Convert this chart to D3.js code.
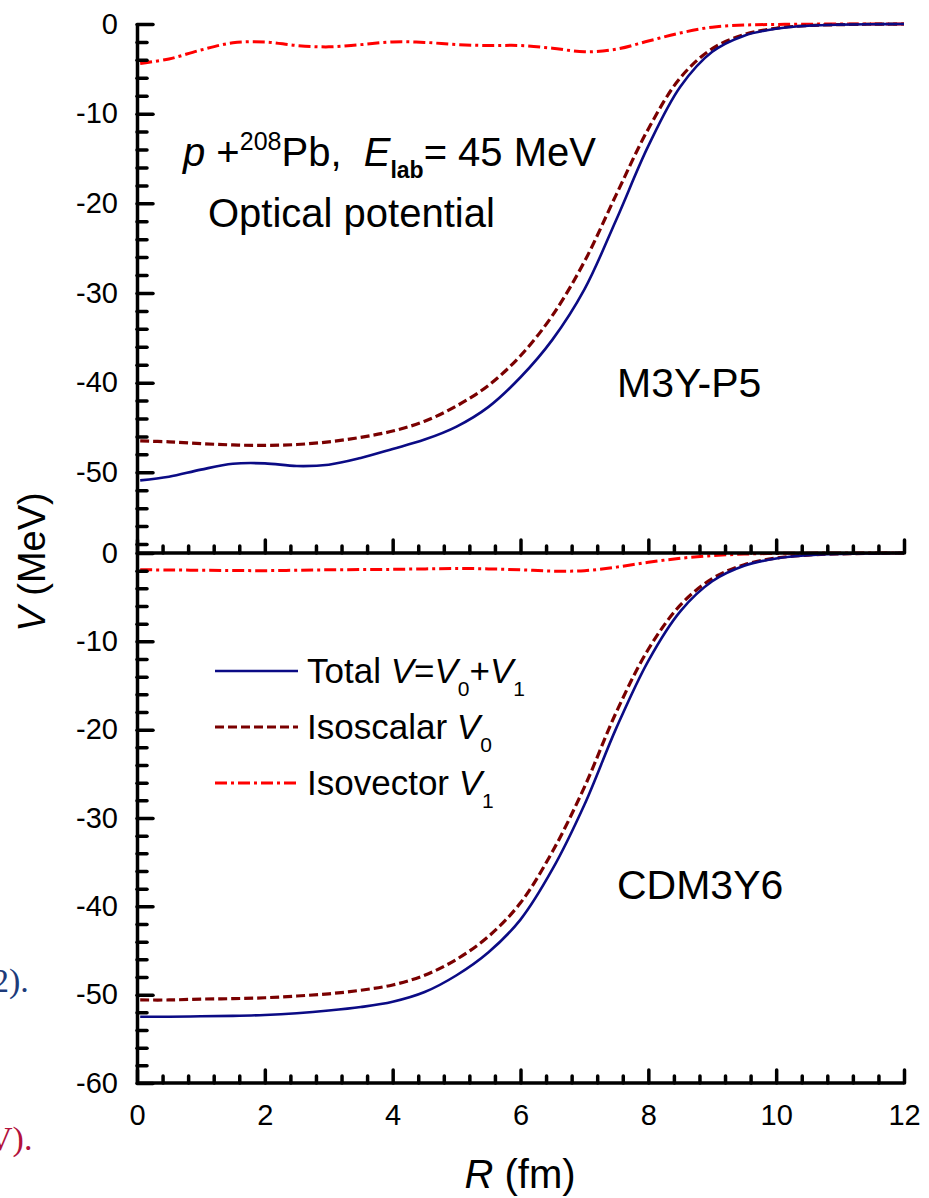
<!DOCTYPE html>
<html>
<head>
<meta charset="utf-8">
<script src="https://cdn.jsdelivr.net/npm/d3@7"></script>
<style>
  body { margin: 0; background: #fff; }
  svg { font-family: "Liberation Sans", Arial, sans-serif; }
  text { white-space: pre; }
</style>
</head>
<body>
<svg id="chart" width="929" height="1198"></svg>
<script>
// radial grid (fm)
const R = [0.05, 0.5, 1, 1.5, 2, 2.5, 3, 3.5, 4, 4.5, 5, 5.5, 6, 6.5, 7, 7.5, 8, 8.5, 9, 9.5, 10, 10.5, 11, 11.5, 12];

// M3Y-P5 (upper panel)
const p5Total = [-50.9, -50.5, -49.7, -49.05, -49.0, -49.3, -49.15, -48.4, -47.4, -46.35, -44.9, -42.7, -39.4, -35.2, -29.6, -21.8, -13.6, -7.0, -3.1, -1.3, -0.52, -0.2, -0.07, -0.02, 0];
const p5Iso0  = [-46.5, -46.6, -46.8, -46.95, -47.0, -46.9, -46.6, -46.1, -45.4, -44.3, -42.6, -40.3, -37.0, -32.5, -26.5, -19.0, -11.7, -6.0, -2.75, -1.18, -0.47, -0.18, -0.07, -0.02, 0];
const p5Iso1  = [-4.4, -3.9, -2.9, -2.1, -2.0, -2.4, -2.55, -2.3, -2.0, -2.05, -2.3, -2.4, -2.4, -2.7, -3.1, -2.8, -1.9, -1.0, -0.35, -0.12, -0.05, -0.02, 0, 0, 0];

// CDM3Y6 (lower panel)
const cdTotal = [-52.5, -52.5, -52.45, -52.4, -52.3, -52.1, -51.8, -51.4, -50.8, -49.7, -47.8, -45.2, -41.5, -35.8, -28.5, -19.8, -12.2, -6.6, -3.2, -1.45, -0.62, -0.25, -0.1, -0.04, 0];
const cdIso0  = [-50.6, -50.6, -50.5, -50.45, -50.35, -50.15, -49.9, -49.5, -48.9, -47.8, -46.0, -43.4, -39.6, -33.8, -26.5, -18.0, -10.9, -5.9, -2.9, -1.32, -0.57, -0.23, -0.1, -0.04, 0];
const cdIso1  = [-1.9, -1.92, -1.95, -1.98, -2.0, -1.95, -1.9, -1.88, -1.85, -1.8, -1.75, -1.8, -1.9, -2.05, -2.0, -1.6, -1.05, -0.6, -0.3, -0.12, -0.05, -0.02, 0, 0, 0];

const xTicks = [0, 2, 4, 6, 8, 10, 12];
const yTicksTop = [0, -10, -20, -30, -40, -50];
const yTicksBot = [0, -10, -20, -30, -40, -50, -60];

const svg = d3.select('#chart');

const x = d3.scaleLinear().domain([0, 12]).range([137, 904]);
const yTop = d3.scaleLinear().domain([-59, 0]).range([553, 24]);
const yBot = d3.scaleLinear().domain([-60, 0]).range([1083, 553]);

const styles = {
  total: { stroke: '#0b0b85', width: 2.6, dash: null },
  iso0:  { stroke: '#7a0000', width: 3.2, dash: '9,4' },
  iso1:  { stroke: '#ff0000', width: 3, dash: '12,4,3,4' }
};

function drawCurve(vals, y, st) {
  const line = d3.line()
    .x((d, i) => x(R[i]))
    .y(d => y(d))
    .curve(d3.curveCatmullRom.alpha(0.5));
  svg.append('path')
    .datum(vals)
    .attr('fill', 'none')
    .attr('stroke', st.stroke)
    .attr('stroke-width', st.width)
    .attr('stroke-dasharray', st.dash)
    .attr('d', line);
}

drawCurve(p5Iso1, yTop, styles.iso1);
drawCurve(p5Iso0, yTop, styles.iso0);
drawCurve(p5Total, yTop, styles.total);
drawCurve(cdIso1, yBot, styles.iso1);
drawCurve(cdIso0, yBot, styles.iso0);
drawCurve(cdTotal, yBot, styles.total);

// axes
function styleAxis(g) {
  g.selectAll('path, line').attr('stroke', '#000').attr('stroke-width', 3.5);
  g.selectAll('line').attr('stroke-linecap', 'round');
  g.selectAll('text').attr('fill', '#000').style('font-size', '29px');
}

const xMinor = d3.range(0, 12.01, 0.4).filter(v => Math.abs(v / 2 - Math.round(v / 2)) > 0.01);
const plain = d => String(d);   // hyphen-minus like the original

[553, 1083].forEach((py, k) => {
  svg.append('g')
    .attr('transform', 'translate(0,' + py + ')')
    .call(d3.axisBottom(x).tickValues(xMinor).tickSize(-7).tickFormat(''))
    .call(g => g.select('.domain').remove())
    .call(styleAxis);
  svg.append('g')
    .attr('transform', 'translate(0,' + py + ')')
    .call(d3.axisBottom(x).tickValues(xTicks).tickSize(-13).tickSizeOuter(0)
      .tickPadding(21).tickFormat(k === 1 ? plain : ''))
    .call(styleAxis)
    .call(g => g.select('.domain').attr('d', 'M137,0H904'));
});

function leftAxis(y, majors, lo) {
  const minors = d3.range(0, lo - 0.01, -2).filter(v => v % 10 !== 0);
  svg.append('g')
    .attr('transform', 'translate(137,0)')
    .call(d3.axisLeft(y).tickValues(minors).tickSize(-10).tickFormat(''))
    .call(g => g.select('.domain').remove())
    .call(styleAxis);
  svg.append('g')
    .attr('transform', 'translate(137,0)')
    .call(d3.axisLeft(y).tickValues(majors).tickSize(-16).tickSizeOuter(0)
      .tickPadding(19).tickFormat(plain))
    .call(styleAxis);
}
leftAxis(yTop, yTicksTop, -59);
leftAxis(yBot, yTicksBot, -60);

// axis titles
const yt = svg.append('text')
  .attr('transform', 'translate(45,562) rotate(-90)')
  .attr('text-anchor', 'middle')
  .style('font-size', '38px');
yt.append('tspan').style('font-style', 'italic').text('V');
yt.append('tspan').text(' (MeV)');

const xt = svg.append('text')
  .attr('x', 520).attr('y', 1188)
  .attr('text-anchor', 'middle')
  .style('font-size', '40px');
xt.append('tspan').style('font-style', 'italic').text('R');
xt.append('tspan').text(' (fm)');

// annotations
const t1 = svg.append('text').attr('x', 183).attr('y', 166).style('font-size', '40px');
t1.append('tspan').style('font-style', 'italic').text('p');
t1.append('tspan').text(' +');
t1.append('tspan').attr('dy', -16).style('font-size', '25px').text('208');
t1.append('tspan').attr('dy', 16).text('Pb,  ');
t1.append('tspan').style('font-style', 'italic').text('E');
t1.append('tspan').attr('dy', 12).style('font-size', '23px').style('font-weight', 'bold').text('lab');
t1.append('tspan').attr('dy', -12).text('= 45 MeV');

svg.append('text').attr('x', 208).attr('y', 227).style('font-size', '40px').text('Optical potential');
svg.append('text').attr('x', 617).attr('y', 397).style('font-size', '41px').text('M3Y-P5');
svg.append('text').attr('x', 617).attr('y', 899).style('font-size', '41px').text('CDM3Y6');

// legend
const legend = [
  { key: 'total', y: 671, parts: [['Total ', 0], ['V', 1], ['=', 0], ['V', 1], ['0', 2], ['+', 0], ['V', 1], ['1', 2]] },
  { key: 'iso0', y: 727, parts: [['Isoscalar ', 0], ['V', 1], ['0', 2]] },
  { key: 'iso1', y: 783, parts: [['Isovector ', 0], ['V', 1], ['1', 2]] }
];
legend.forEach(item => {
  const st = styles[item.key];
  svg.append('line')
    .attr('x1', 215).attr('x2', 298).attr('y1', item.y).attr('y2', item.y)
    .attr('stroke', st.stroke).attr('stroke-width', st.width)
    .attr('stroke-dasharray', st.dash);
  const t = svg.append('text').attr('x', 307).attr('y', item.y + 12).style('font-size', '35px');
  let sub = false;
  item.parts.forEach(([s, kind]) => {
    const ts = t.append('tspan').text(s);
    if (kind === 1) ts.style('font-style', 'italic');
    if (kind === 2) { ts.style('font-size', '21px').attr('dy', sub ? 0 : 13); sub = true; }
    else if (sub) { ts.attr('dy', -13); sub = false; }
  });
});

// cropped page text at the left edge
svg.append('text').attr('x', -8).attr('y', 992)
  .style('font-family', '"Liberation Serif", serif').style('font-size', '34px')
  .attr('fill', '#1d3b7a').text('2).');
svg.append('text').attr('x', -12).attr('y', 1150)
  .style('font-family', '"Liberation Serif", serif').style('font-size', '34px')
  .attr('fill', '#b3123c').text('V).');
</script>
</body>
</html>
